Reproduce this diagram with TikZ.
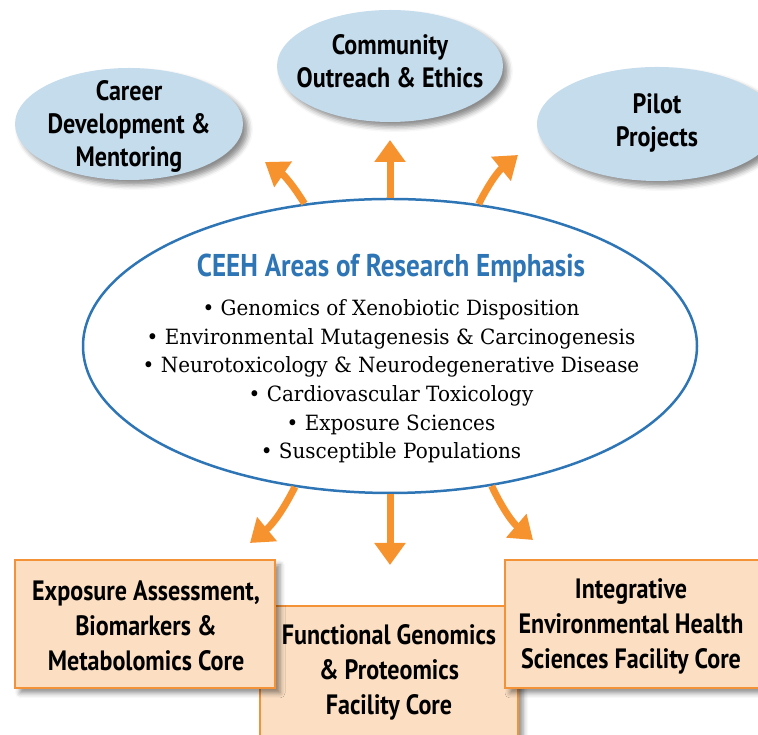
\documentclass[tikz,border=0pt]{standalone}
\usepackage{fontspec}
\setmainfont{DejaVu Serif}[FakeStretch=0.95]
\newfontfamily\headfont{PT Sans}[FakeStretch=0.86]
\usetikzlibrary{arrows.meta,shapes.geometric,shadows.blur}
\definecolor{bubblefill}{HTML}{C5DCEC}
\definecolor{boxfill}{HTML}{FCDFC3}
\definecolor{boxline}{HTML}{F39237}
\definecolor{arrowc}{HTML}{F7932F}
\definecolor{ceblue}{HTML}{2E75B6}
\begin{document}
\begin{tikzpicture}[x=1pt,y=1pt,
  softshadow/.style={blur shadow={shadow xshift=5pt,shadow yshift=-5pt,shadow blur radius=5pt,shadow opacity=45}},
  bubble/.style={ellipse, fill=bubblefill, inner sep=0pt, softshadow},
  corebox/.style={rectangle, draw=boxline, line width=2pt, fill=boxfill, inner sep=0pt, softshadow},
  headtext/.style={font=\headfont\bfseries\fontsize{28}{33}\selectfont, align=center, text=black, inner sep=0pt},
  boxtext/.style={font=\headfont\bfseries\fontsize{28}{35}\selectfont, align=center, text=black, inner sep=0pt},
  flow/.style={draw=arrowc, line width=7pt, -{Triangle[width=30pt,length=22pt]}},
]
\useasboundingbox (0,0) rectangle (758,735);

% top bubbles
\node[bubble, minimum width=228pt, minimum height=112pt] (career) at (129,611) {};
\node[headtext] (careert) at (129,609) {Career\\Development \&\\Mentoring};
\node[bubble, minimum width=226pt, minimum height=112pt] (community) at (390,669) {};
\node[headtext] (communityt) at (390,674) {Community\\Outreach \& Ethics};
\node[bubble, minimum width=240pt, minimum height=114pt] (pilot) at (657,611) {};
\node[headtext] (pilott) at (657,612) {Pilot\\Projects};

% central ellipse
\node[ellipse, draw=ceblue, line width=2.5pt, fill=white, inner sep=0pt,
      minimum width=614pt, minimum height=294pt] (ce) at (390,389) {};
\node[font=\headfont\bfseries\fontsize{31.5}{34}\selectfont, text=ceblue, inner sep=0pt] (title) at (391,467) {CEEH Areas of Research Emphasis};
\node[font=\fontsize{21}{28.6}\selectfont, align=center, inner sep=0pt] (areas) at (391,353.5)
  {• Genomics of Xenobiotic Disposition\\
   • Environmental Mutagenesis \& Carcinogenesis\\
   • Neurotoxicology \& Neurodegenerative Disease\\
   • Cardiovascular Toxicology\\
   • Exposure Sciences\\
   • Susceptible Populations};

% arrow end points
\coordinate (tl) at (265,573);
\coordinate (tm) at (390,595);
\coordinate (tr) at (518,580);
\coordinate (bl) at (250,192);
\coordinate (bm) at (390,170);
\coordinate (br) at (533,195);

\draw[flow] (ce.121) to[bend right=12] (tl);
\draw[flow] (ce.north) -- (tm);
\draw[flow] (ce.58) to[bend left=12] (tr);
\draw[flow] (ce.236) to[bend left=12] (bl);
\draw[flow] (ce.south) -- (bm);
\draw[flow] (ce.306) to[bend right=12] (br);

% bottom boxes
\node[corebox, minimum width=258pt, minimum height=134pt] (fg) at (389,62) {};
\node[boxtext] (fgt) at (389,63) {Functional Genomics\\\& Proteomics\\Facility Core};
\node[corebox, minimum width=260pt, minimum height=128pt] (ea) at (145,111) {};
\node[boxtext] (eat) at (146,109) {Exposure Assessment,\\Biomarkers \&\\Metabolomics Core};
\node[corebox, minimum width=254pt, minimum height=128pt] (ie) at (632,111) {};
\node[boxtext] (iet) at (631,109) {Integrative\\Environmental Health\\Sciences Facility Core};
\end{tikzpicture}
\end{document}
